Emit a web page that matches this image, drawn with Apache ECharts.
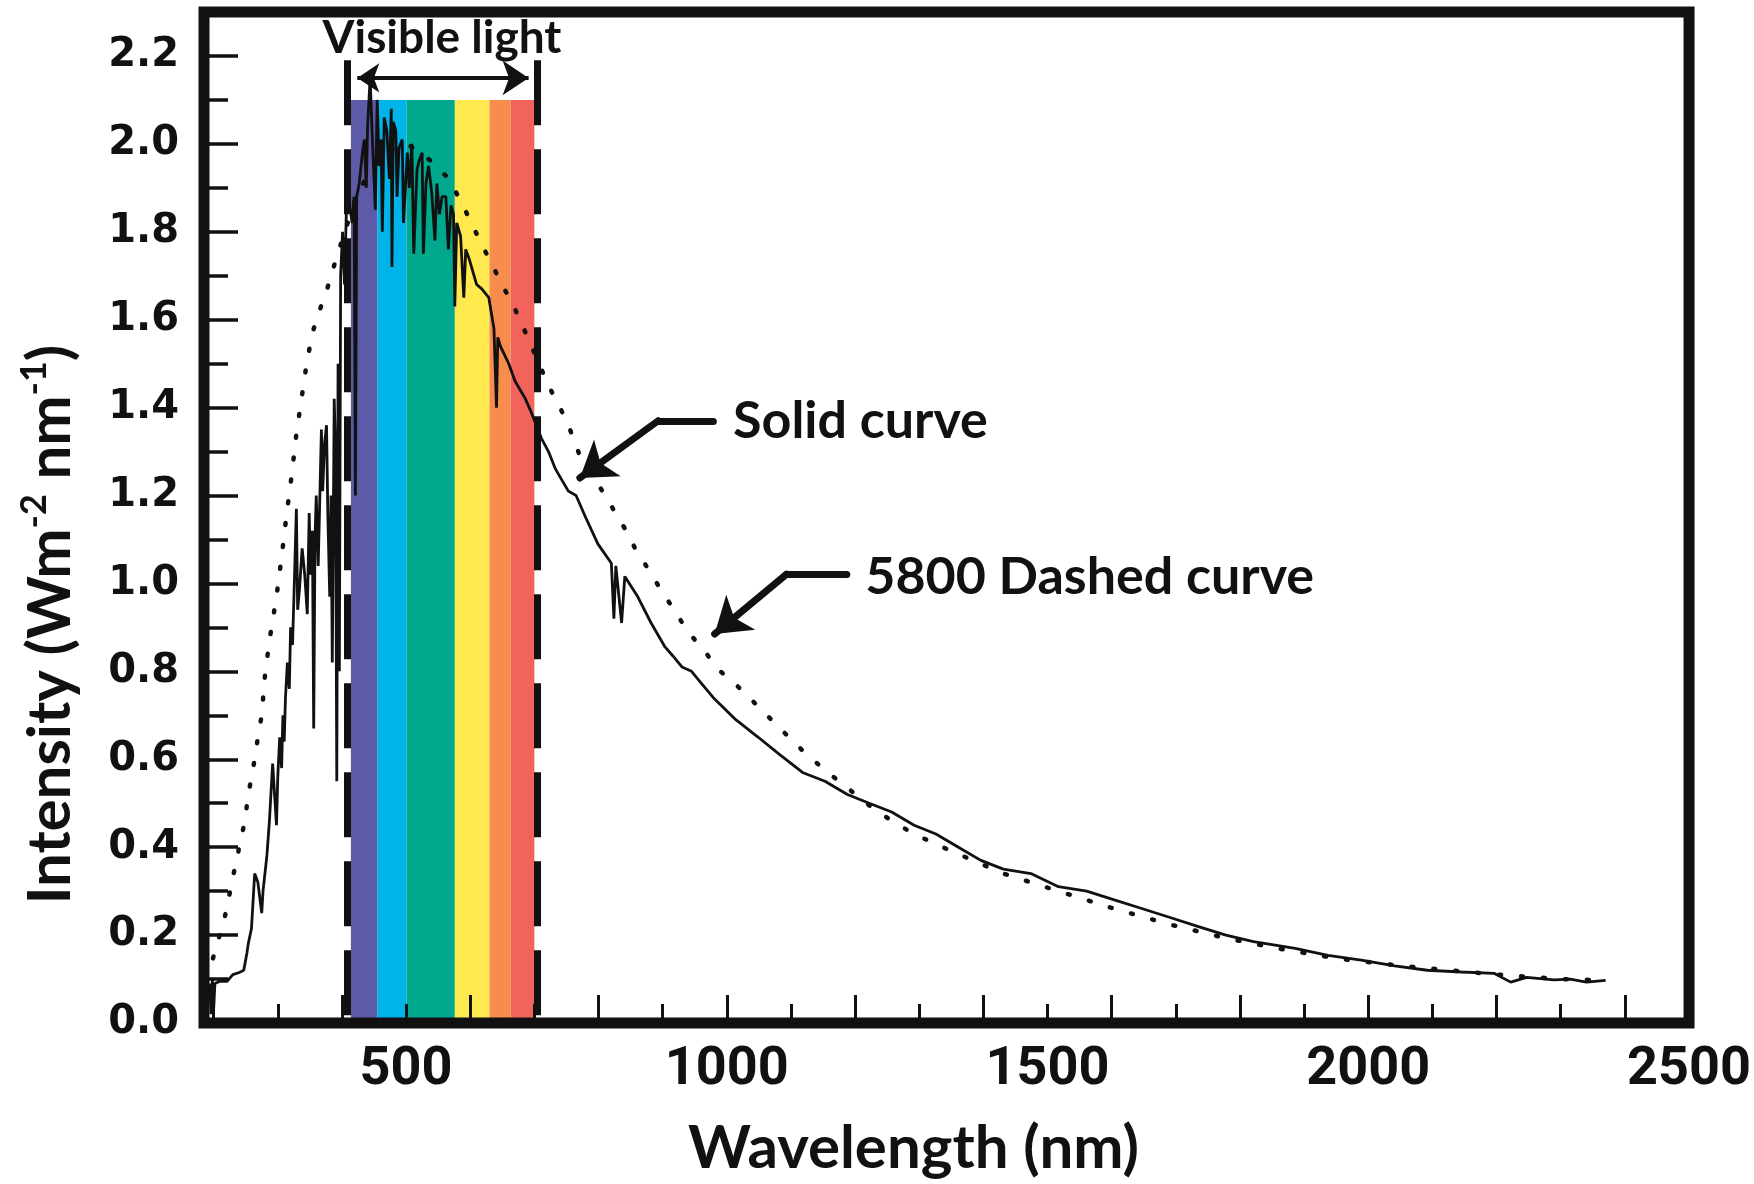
<!DOCTYPE html>
<html>
<head>
<meta charset="utf-8">
<title>Solar spectrum vs 5800 K</title>
<script src="https://cdn.jsdelivr.net/npm/echarts@6/dist/echarts.min.js"></script>
<style>
  html, body { margin: 0; padding: 0; background: #fff; }
  #chart { width: 1754px; height: 1184px; }
</style>
</head>
<body>
<div id="chart"></div>
<script>
// measured solar spectrum [wavelength nm, intensity]
const solidCurve = [
  [194, 0.09], [196, 0.02], [198, 0.10], [200, 0.03], [202, 0.09], [210, 0.095], [221, 0.095],
  [230, 0.11], [240, 0.115], [247, 0.12], [252, 0.16], [254, 0.18], [259, 0.215], [264, 0.34],
  [269, 0.32], [275, 0.25], [277, 0.30], [283, 0.38], [287, 0.46], [292, 0.59], [298, 0.45],
  [300, 0.56], [303, 0.65], [306, 0.58], [308, 0.70], [310, 0.64], [312, 0.74], [315, 0.82],
  [318, 0.76], [320, 0.90], [323, 0.86], [326, 1.01], [329, 1.17], [331, 0.94], [334, 0.99],
  [338, 1.08], [342, 1.02], [346, 0.93], [349, 1.16], [351, 1.02], [354, 1.12], [356, 0.67],
  [358, 1.10], [360, 1.20], [363, 1.04], [365, 1.16], [368, 1.35], [370, 1.21], [373, 1.32],
  [376, 1.36], [378, 1.16], [381, 0.97], [383, 1.20], [385, 0.82], [388, 1.42], [390, 1.30],
  [392, 0.55], [394, 1.50], [396, 0.80], [398, 1.70], [401, 1.80], [404, 1.68], [407, 1.85],
  [412, 1.86], [416, 1.82], [419, 1.88], [421, 1.20], [423, 1.88], [427, 1.91], [432, 1.98],
  [435, 2.01], [438, 1.90], [440, 2.04], [444, 2.15], [447, 2.03], [452, 1.85], [455, 2.10],
  [458, 1.95], [461, 2.01], [463, 1.80], [466, 2.06], [470, 2.03], [474, 1.92], [477, 2.08],
  [478, 1.72], [480, 2.05], [484, 2.03], [486, 1.88], [489, 1.99], [494, 2.01], [496, 1.82],
  [502, 1.98], [505, 1.90], [509, 2.00], [512, 1.75], [517, 1.94], [520, 1.96], [525, 1.98],
  [527, 1.75], [531, 1.91], [535, 1.95], [540, 1.89], [545, 1.78], [548, 1.91], [552, 1.84],
  [556, 1.88], [562, 1.88], [566, 1.76], [570, 1.86], [574, 1.84], [576, 1.63], [579, 1.82],
  [585, 1.79], [590, 1.65], [593, 1.76], [598, 1.74], [602, 1.72], [610, 1.68], [618, 1.67],
  [629, 1.65], [637, 1.58], [641, 1.40], [643, 1.56], [647, 1.54], [660, 1.50], [670, 1.46],
  [686, 1.42], [695, 1.39], [703, 1.36], [711, 1.33], [722, 1.30], [733, 1.26], [745, 1.23],
  [753, 1.21], [765, 1.20], [780, 1.15], [799, 1.09], [820, 1.046], [824, 0.92], [827, 1.04],
  [836, 0.91], [841, 1.016], [861, 0.97], [882, 0.91], [903, 0.857], [916, 0.835], [930, 0.81],
  [945, 0.80], [962, 0.77], [979, 0.74], [1014, 0.69], [1049, 0.65], [1083, 0.61], [1118, 0.57],
  [1153, 0.55], [1188, 0.52], [1222, 0.50], [1257, 0.48], [1292, 0.45], [1326, 0.43], [1361, 0.40],
  [1396, 0.37], [1431, 0.35], [1474, 0.34], [1517, 0.31], [1561, 0.30], [1604, 0.28], [1648, 0.26],
  [1691, 0.24], [1734, 0.22], [1778, 0.20], [1821, 0.185], [1886, 0.17], [1937, 0.154],
  [1989, 0.143], [2041, 0.13], [2092, 0.12], [2145, 0.116], [2196, 0.113], [2222, 0.093],
  [2247, 0.104], [2289, 0.098], [2315, 0.10], [2340, 0.093], [2370, 0.097]
]

// 5800 K blackbody curve [wavelength nm, intensity]
const dashedCurve = [
  [199, 0.147], [205, 0.18], [214, 0.22], [222, 0.27], [228, 0.32], [236, 0.37], [241, 0.41],
  [249, 0.46], [253, 0.51], [259, 0.56], [264, 0.60], [269, 0.65], [275, 0.70], [280, 0.79],
  [287, 0.87], [298, 0.97], [306, 1.06], [314, 1.16], [322, 1.25], [329, 1.34], [337, 1.42],
  [345, 1.50], [354, 1.57], [365, 1.62], [377, 1.67], [385, 1.71], [400, 1.78], [420, 1.87],
  [440, 1.93], [460, 1.97], [480, 1.99], [500, 2.00], [512, 1.99], [540, 1.96], [567, 1.92],
  [585, 1.87], [602, 1.82], [618, 1.77], [633, 1.73], [649, 1.68], [665, 1.64], [694, 1.545],
  [722, 1.45], [740, 1.40], [753, 1.36], [771, 1.29], [806, 1.21], [841, 1.125], [858, 1.077],
  [877, 1.034], [897, 0.986], [919, 0.937], [939, 0.891], [965, 0.846], [990, 0.80], [1014, 0.77],
  [1049, 0.72], [1083, 0.67], [1118, 0.62], [1153, 0.575], [1188, 0.535], [1222, 0.495],
  [1257, 0.46], [1292, 0.43], [1344, 0.395], [1431, 0.34], [1517, 0.30], [1604, 0.26],
  [1691, 0.224], [1778, 0.193], [1865, 0.168], [1951, 0.147], [2038, 0.132], [2125, 0.12],
  [2212, 0.109], [2298, 0.10], [2368, 0.097]
]

// visible light bands [from nm, to nm]
const visibleBands = [[414, 455], [455, 501], [501, 576], [576, 630], [630, 663], [663, 700]]
const visibleTop = 2.1
const visibleEdges = [408, 705]
const edgeTop = 2.19
const bandColors = ['#5d5aa8', '#00b3e9', '#00a88e', '#ffe94f', '#f68d4d', '#f1635b']

// annotations (data coordinates)
const visibleArrow = [[424, 2.15], [691, 2.15]]
const solidArrow = [[979, 1.37], [893, 1.37], [771, 1.24]]
const dashedArrow = [[1187, 1.021], [1093, 1.021], [981, 0.885]]
const noteText = ['Solid curve', '5800 Dashed curve', 'Visible light']
const noteAnchor = [[1009, 1.37], [1215, 1.014], [556, 2.241]]

// axes
const xMin = 185
const xMax = 2500
const yMin = 0
const yMax = 2.3
const xLabels = [500, 1000, 1500, 2000, 2500]
const xTickLong = [400, 600, 800, 1000, 1200, 1400, 1600, 1800, 2000, 2200, 2400]
const xTickShort = [200, 300, 500, 700, 900, 1100, 1300, 1500, 1700, 1900, 2100, 2300]
const yLabels = [0, 0.2, 0.4, 0.6, 0.8, 1.0, 1.2, 1.4, 1.6, 1.8, 2.0, 2.2]
const yTickLong = [0.2, 0.4, 0.6, 0.8, 1.0, 1.2, 1.4, 1.6, 1.8, 2.0, 2.2]
const yTickShort = [0.1, 0.3, 0.5, 0.7, 0.9, 1.1, 1.3, 1.5, 1.7, 1.9, 2.1]

const ink = '#111'
const titleFont = { fontFamily: 'Lato', fontWeight: 'bold', color: ink }

const chart = echarts.init(document.getElementById('chart'))

chart.setOption({
  animation: false,
  backgroundColor: '#fff',
  grid: {
    left: 204,
    right: 58,
    top: 12,
    bottom: 156,
    show: true,
    z: 8,
    borderColor: ink,
    borderWidth: 11,
    backgroundColor: 'transparent'
  },
  xAxis: [
    {
      type: 'value',
      position: 'bottom',
      min: xMin,
      max: xMax,
      z: 6,
      axisLine: { show: false },
      splitLine: { show: false },
      axisTick: {
        inside: true,
        length: 28,
        customValues: xTickLong,
        lineStyle: { color: ink, width: 3 }
      },
      axisLabel: {
        customValues: xLabels,
        formatter: v => String(v),
        margin: 20,
        fontFamily: 'Roboto',
        fontWeight: 'bold',
        fontSize: 54,
        color: ink
      },
      name: 'Wavelength (nm)',
      nameLocation: 'middle',
      nameGap: 96,
      nameTextStyle: Object.assign({ fontSize: 60, padding: [0, 66, 0, 0] }, titleFont)
    },
    {
      type: 'value',
      position: 'bottom',
      min: xMin,
      max: xMax,
      z: 6,
      axisLine: { show: false },
      splitLine: { show: false },
      axisLabel: { show: false },
      axisTick: {
        inside: true,
        length: 19,
        customValues: xTickShort,
        lineStyle: { color: ink, width: 3 }
      }
    }
  ],
  yAxis: [
    {
      type: 'value',
      position: 'left',
      min: yMin,
      max: yMax,
      z: 6,
      axisLine: { show: false },
      splitLine: { show: false },
      axisTick: {
        inside: true,
        length: 34,
        customValues: yTickLong,
        lineStyle: { color: ink, width: 3.5 }
      },
      axisLabel: {
        customValues: yLabels,
        formatter: v => v.toFixed(1),
        margin: 25,
        fontFamily: 'DejaVu Sans',
        fontWeight: 'bold',
        fontSize: 40,
        color: ink
      },
      name: 'Intensity (Wm{sup|-2} nm{sup|-1})',
      nameLocation: 'middle',
      nameRotate: 90,
      nameGap: 118,
      nameTextStyle: Object.assign({
        fontSize: 60,
        lineHeight: 70,
        padding: [0, 214, 0, 0],
        rich: {
          sup: {
            fontFamily: 'Lato',
            fontWeight: 'bold',
            fontSize: 36,
            lineHeight: 36,
            verticalAlign: 'top',
            color: ink
          }
        }
      }, titleFont)
    },
    {
      type: 'value',
      position: 'left',
      min: yMin,
      max: yMax,
      z: 6,
      axisLine: { show: false },
      splitLine: { show: false },
      axisLabel: { show: false },
      axisTick: {
        inside: true,
        length: 24,
        customValues: yTickShort,
        lineStyle: { color: ink, width: 3.5 }
      }
    }
  ],
  series: [
    {
      name: 'Solid curve',
      type: 'line',
      data: solidCurve,
      symbol: 'none',
      z: 3,
      lineStyle: { color: ink, width: 2.8 },
      markArea: {
        silent: true,
        data: visibleBands.map((b, i) => [
          { coord: [b[0], 0], itemStyle: { color: bandColors[i], opacity: 1 } },
          { coord: [b[1], visibleTop] }
        ])
      }
    },
    {
      name: '5800 Dashed curve',
      type: 'line',
      data: dashedCurve,
      symbol: 'none',
      z: 3,
      lineStyle: { color: ink, width: 4.5, type: [2, 20], cap: 'round' }
    },
    {
      name: 'visible edges',
      type: 'lines',
      coordinateSystem: 'cartesian2d',
      silent: true,
      z: 4,
      symbol: 'none',
      lineStyle: { color: ink, width: 7, opacity: 1, type: [65, 24] },
      data: visibleEdges.map(x => ({ coords: [[x, edgeTop], [x, 0]] }))
    },
    {
      name: 'visible arrow',
      type: 'lines',
      coordinateSystem: 'cartesian2d',
      silent: true,
      z: 4,
      symbol: ['arrow', 'arrow'],
      symbolSize: [22, 26],
      lineStyle: { color: ink, width: 4, opacity: 1 },
      data: [{ coords: visibleArrow }]
    },
    {
      name: 'note bars',
      type: 'lines',
      coordinateSystem: 'cartesian2d',
      silent: true,
      z: 4,
      symbol: 'none',
      lineStyle: { color: ink, width: 7, opacity: 1, cap: 'round' },
      data: [
        { coords: [solidArrow[0], solidArrow[1]] },
        { coords: [dashedArrow[0], dashedArrow[1]] }
      ]
    },
    {
      name: 'note pointers',
      type: 'lines',
      coordinateSystem: 'cartesian2d',
      silent: true,
      z: 4,
      symbol: ['none', 'arrow'],
      symbolSize: 34,
      lineStyle: { color: ink, width: 7, opacity: 1, cap: 'round' },
      data: [
        { coords: [solidArrow[1], solidArrow[2]] },
        { coords: [dashedArrow[1], dashedArrow[2]] }
      ]
    },
    {
      name: 'notes',
      type: 'scatter',
      silent: true,
      z: 5,
      symbolSize: 1,
      itemStyle: { color: 'rgba(0,0,0,0)', opacity: 1 },
      data: noteText.map((t, i) => ({
        value: noteAnchor[i],
        label: {
          show: true,
          formatter: t,
          position: i === 2 ? 'inside' : 'right',
          distance: 0,
          fontFamily: 'Lato',
          fontWeight: 'bold',
          fontSize: i === 2 ? 46 : 52,
          color: ink,
          opacity: 1
        }
      }))
    }
  ]
})
</script>
</body>
</html>
